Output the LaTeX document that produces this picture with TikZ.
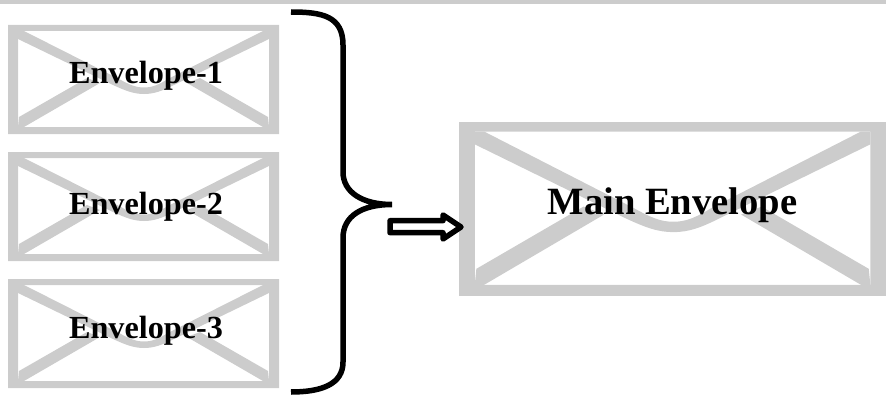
\documentclass[tikz,border=0pt]{standalone}
\usepackage{fontspec}
\setmainfont{Liberation Serif}
\definecolor{envgray}{HTML}{CCCCCC}
\tikzset{
  envpart/.style={fill=envgray,draw=none},
  envlabel/.style={font=\bfseries\fontsize{32.2}{34}\selectfont,anchor=base,inner sep=0pt,text=black},
  mainlabel/.style={font=\bfseries\fontsize{38.6}{42}\selectfont,anchor=base,inner sep=0pt,text=black},
  bracestroke/.style={draw=black,line width=5.5pt,line cap=butt},
  arrowstroke/.style={draw=black,line width=5.5pt,line join=round,fill=white}
}
\newcommand{\envshape}{%
  \fill[envpart,even odd rule] (0,0) rectangle (271,109) (10,6) rectangle (261,102);
  \fill[envpart] (11,92) -- (79,53) -- (92,58) -- (16,102) -- (10,102) -- cycle;
  \fill[envpart] (260,92) -- (192,53) -- (179,58) -- (255,102) -- (261,102) -- cycle;
  \fill[envpart] (16,6) -- (10,6) -- (10,14) -- (105,60)
    .. controls (118,66) and (126,69) .. (136,69)
    .. controls (146,69) and (154,66) .. (166,60)
    -- (261,14) -- (261,6) -- (255,6) -- (160,54)
    .. controls (150,60) and (144,62.5) .. (136,62.5)
    .. controls (128,62.5) and (122,60) .. (111,54) -- cycle;
}
\begin{document}
\begin{tikzpicture}[x=1pt,y=-1pt]
\useasboundingbox (0,0) rectangle (886,396);
\fill[envpart] (0,0) rectangle (886,4);
\begin{scope}[shift={(8,25)}]\envshape\end{scope}
\begin{scope}[shift={(8,152)}]\envshape\end{scope}
\begin{scope}[shift={(8,279)}]\envshape\end{scope}
\begin{scope}[shift={(459,122)},xscale=1.576,yscale=1.596]\envshape\end{scope}
\node[envlabel] (e1) at (146,83.5) {Envelope-1};
\node[envlabel] (e2) at (146,214) {Envelope-2};
\node[envlabel] (e3) at (146,338.5) {Envelope-3};
\node[mainlabel] (m) at (672.5,214) {Main Envelope};
\coordinate (bracetop) at (291,12);
\coordinate (bracetip) at (392,204.5);
\coordinate (bracebot) at (291,392);
\draw[bracestroke] (bracetop) .. controls (322,12) and (343,16) .. (343,45)
  -- (343,172) .. controls (343,192) and (362,204.5) .. (bracetip)
  .. controls (362,204.5) and (343,216) .. (343,238)
  -- (343,362) .. controls (343,384) and (322,392) .. (bracebot);
\coordinate (a1) at (390,220.7);
\coordinate (a2) at (443,220.7);
\coordinate (a3) at (443,215);
\coordinate (tip) at (461,227);
\coordinate (a5) at (443,239);
\coordinate (a6) at (443,232.7);
\coordinate (a7) at (390,232.7);
\draw[arrowstroke] (a1) -- (a2) -- (a3) -- (tip) -- (a5) -- (a6) -- (a7) -- cycle;
\end{tikzpicture}
\end{document}
